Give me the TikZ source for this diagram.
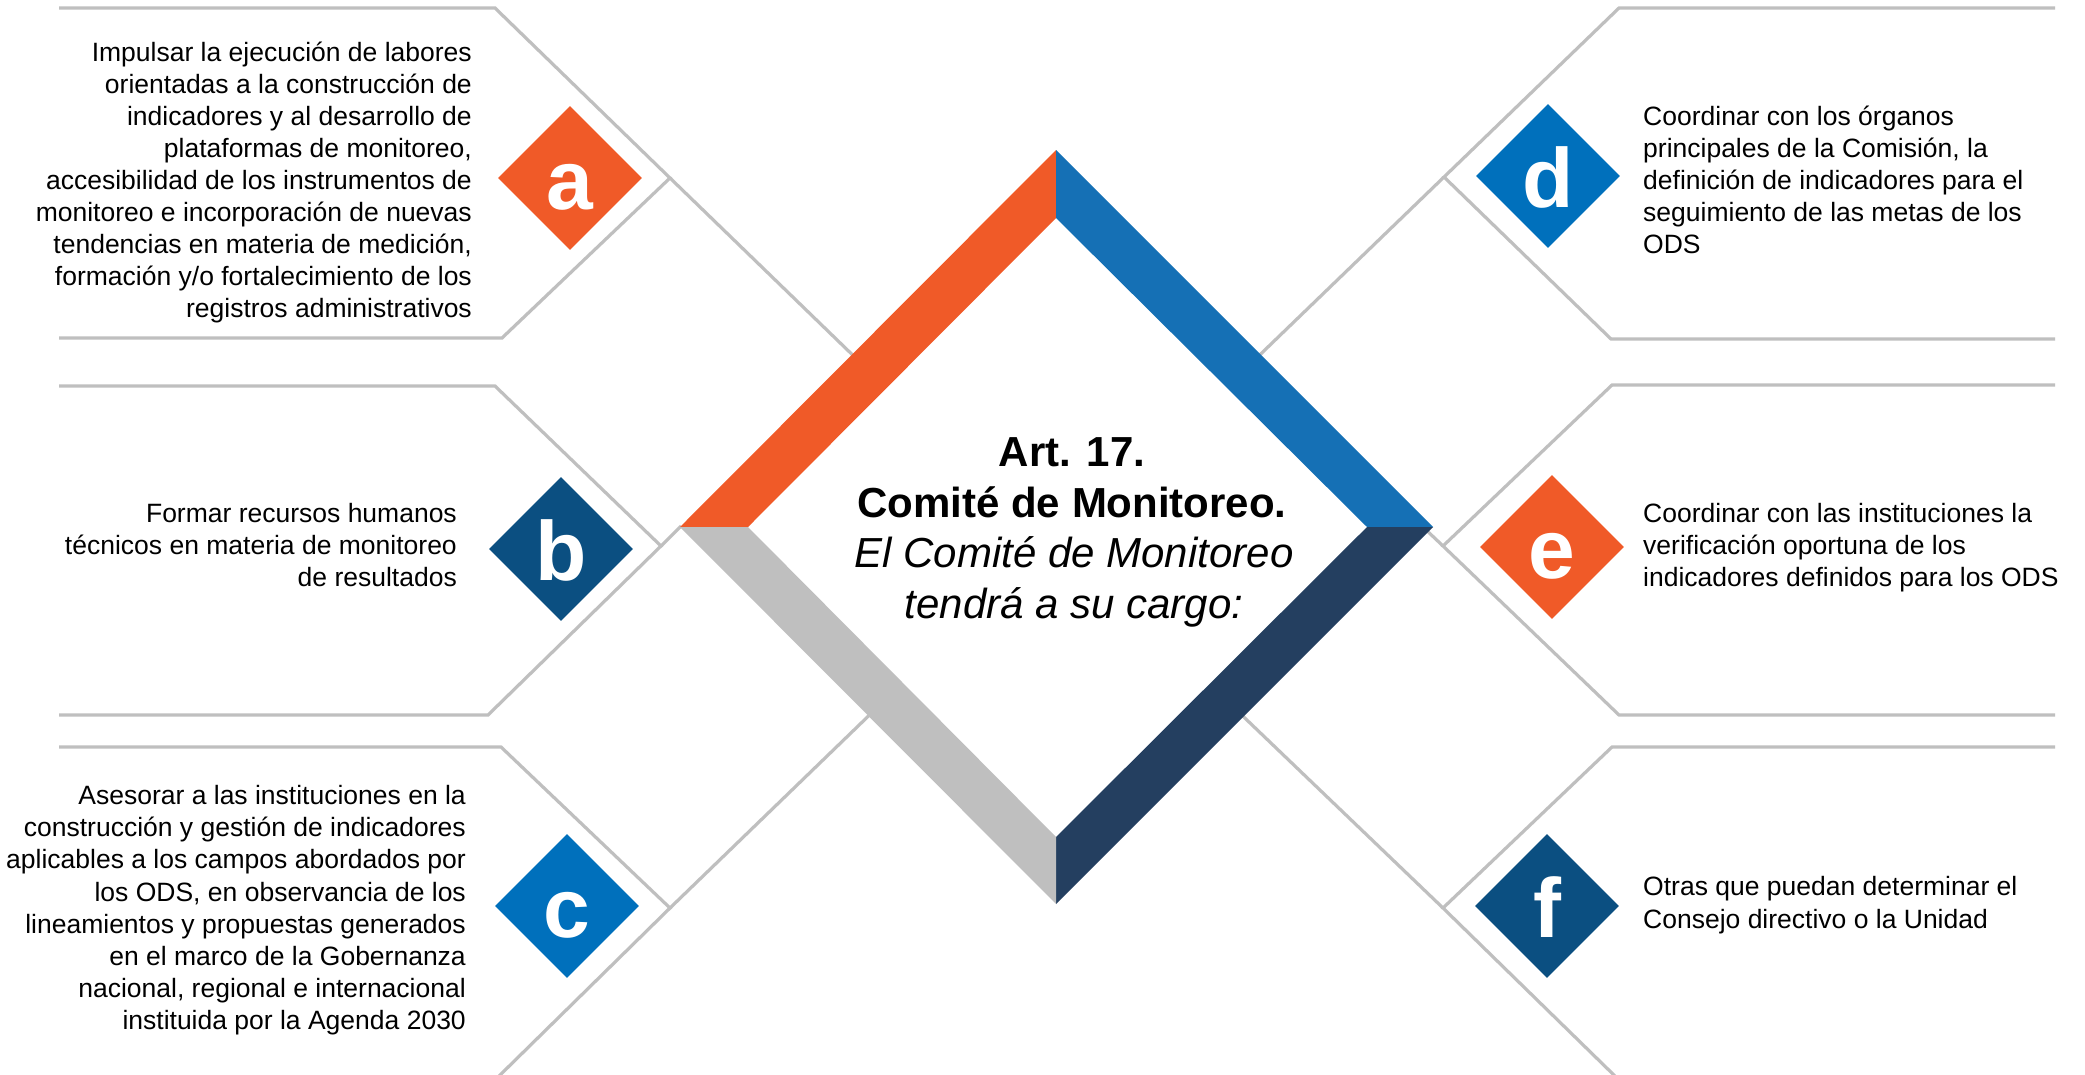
\documentclass[tikz,border=0pt]{standalone}
\usepackage{fontspec}
\setmainfont{Liberation Sans}
\usetikzlibrary{shapes.geometric}
\definecolor{cOrange}{HTML}{F05A28}
\definecolor{cBlueBar}{HTML}{1570B5}
\definecolor{cBlue}{HTML}{0070BC}
\definecolor{cNavy}{HTML}{0B4F81}
\definecolor{cNavyBar}{HTML}{243F60}
\definecolor{cGray}{HTML}{BFBFBF}
\begin{document}
\begin{tikzpicture}[x=1pt,y=-1pt,
  frame/.style={draw=cGray, line width=3.2pt, line join=miter},
  badge/.style={shape=diamond, minimum width=144pt, minimum height=144pt, inner sep=0pt, draw=none},
  badgeletter/.style={text=white, font=\fontsize{84}{84}\selectfont\bfseries, anchor=base, inner sep=0pt},
  paneltxt/.style={font=\fontsize{26.5}{32}\selectfont, inner sep=0pt},
  titletxt/.style={inner sep=0pt, anchor=base}]
\useasboundingbox (0,0) rectangle (2085,1074);
\fill[white] (0,0) rectangle (2085,1074);

% ---------- panel outlines ----------
\coordinate (pa) at (670,178);
\coordinate (pb) at (661,546);
\coordinate (pc) at (670,908);
\coordinate (pd) at (1444,177);
\coordinate (pe) at (1443,546);
\coordinate (pf) at (1443,908);

\draw[frame] (59,8) -- (495,8) -- (pa) -- (502,338) -- (59,338);
\draw[frame] (pa) -- (865,367);
\draw[frame] (59,386) -- (495,386) -- (pb) -- (488,715) -- (59,715);
\draw[frame] (pb) -- (681,526);
\draw[frame] (59,747) -- (501,747) -- (pc) -- (495,1080);
\draw[frame] (pc) -- (885,700);

\draw[frame] (2055,8) -- (1619,8) -- (pd) -- (1611,339) -- (2055,339);
\draw[frame] (pd) -- (1240,374);
\draw[frame] (2055,385) -- (1612,385) -- (pe) -- (1619,715) -- (2055,715);
\draw[frame] (pe) -- (1423,527);
\draw[frame] (2055,747) -- (1612,747) -- (pf) -- (1619,1080);
\draw[frame] (pf) -- (1225,699);

% ---------- central frame ----------
\coordinate (oT) at (1056,150);
\coordinate (oL) at (680,527);
\coordinate (oR) at (1433,527);
\coordinate (oB) at (1056,904);
\coordinate (iT) at (1056,218);
\coordinate (iL) at (748,527);
\coordinate (iR) at (1367,527);
\coordinate (iB) at (1056,837);
\fill[cOrange] (oL) -- (oT) -- (iT) -- (iL) -- cycle;
\fill[cBlueBar] (oT) -- (oR) -- (iR) -- (iT) -- cycle;
\fill[cNavyBar] (oR) -- (oB) -- (iB) -- (iR) -- cycle;
\fill[cGray] (oB) -- (oL) -- (iL) -- (iB) -- cycle;

\node[titletxt, font=\fontsize{42}{50}\selectfont\bfseries] (t1) at (1072,466) {Art. 17.};
\node[titletxt, font=\fontsize{42}{50}\selectfont\bfseries] (t2) at (1072,517) {Comité de Monitoreo.};
\node[titletxt, font=\fontsize{42}{50}\selectfont\itshape] (t3) at (1074,567) {El Comité de Monitoreo};
\node[titletxt, font=\fontsize{42}{50}\selectfont\itshape] (t4) at (1074,618) {tendrá a su cargo:};

% ---------- badges ----------
\node[badge, fill=cOrange] (ba) at (570,178) {};
\node[badgeletter] (la) at (570,209) {a};
\node[badge, fill=cNavy] (bb) at (561,549) {};
\node[badgeletter] (lb) at (561,580) {b};
\node[badge, fill=cBlue] (bc) at (567,906) {};
\node[badgeletter] (lc) at (567,937) {c};
\node[badge, fill=cBlue] (bd) at (1548,176) {};
\node[badgeletter] (ld) at (1548,207) {d};
\node[badge, fill=cOrange] (be) at (1552,547) {};
\node[badgeletter] (le) at (1552,578) {e};
\node[badge, fill=cNavy] (bf) at (1547,906) {};
\node[badgeletter] (lf) at (1547,937) {f};

% ---------- texts ----------
\foreach \t [count=\i] in {Impulsar la ejecución de labores,
  orientadas a la construcción de,
  indicadores y al desarrollo de,
  {plataformas de monitoreo,},
  accesibilidad de los instrumentos de,
  monitoreo e incorporación de nuevas,
  {tendencias en materia de medición,},
  formación y/o fortalecimiento de los,
  registros administrativos}
  \node[paneltxt, anchor=base east] (ta\i) at (472,{61+32*(\i-1)}) {\t};

\foreach \t [count=\i] in {Formar recursos humanos,
  técnicos en materia de monitoreo,
  de resultados}
  \node[paneltxt, anchor=base east] (tb\i) at (457,{522+32*(\i-1)}) {\t};

\foreach \t [count=\i] in {Asesorar a las instituciones en la,
  construcción y gestión de indicadores,
  aplicables a los campos abordados por,
  {los ODS, en observancia de los},
  lineamientos y propuestas generados,
  en el marco de la Gobernanza,
  {nacional, regional e internacional},
  instituida por la Agenda 2030}
  \node[paneltxt, anchor=base east] (tc\i) at (466,{804.5+32.2*(\i-1)}) {\t};

\foreach \t [count=\i] in {Coordinar con los órganos,
  {principales de la Comisión, la},
  definición de indicadores para el,
  seguimiento de las metas de los,
  ODS}
  \node[paneltxt, anchor=base west] (td\i) at (1643,{125.7+32*(\i-1)}) {\t};

\foreach \t [count=\i] in {Coordinar con las instituciones la,
  verificación oportuna de los,
  indicadores definidos para los ODS}
  \node[paneltxt, anchor=base west] (te\i) at (1643,{522+32*(\i-1)}) {\t};

\foreach \t [count=\i] in {Otras que puedan determinar el,
  Consejo directivo o la Unidad}
  \node[paneltxt, anchor=base west] (tf\i) at (1643,{895.6+32.4*(\i-1)}) {\t};
\end{tikzpicture}
\end{document}
